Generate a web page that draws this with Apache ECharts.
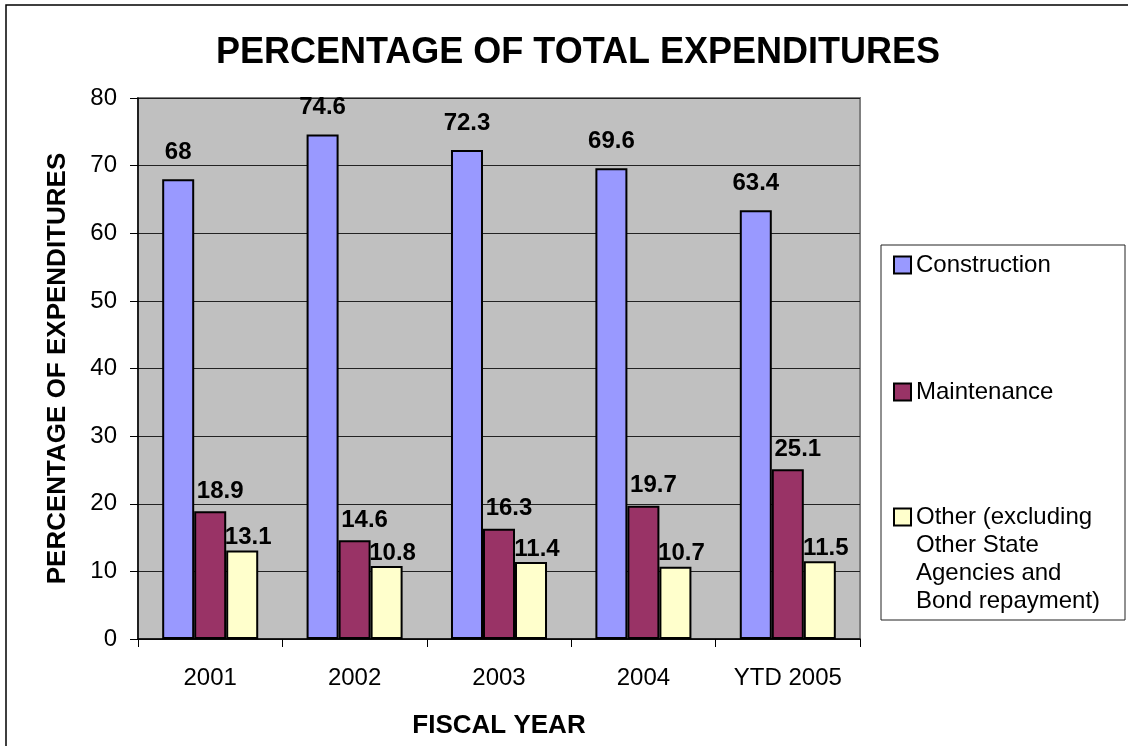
<!DOCTYPE html>
<html>
<head>
<meta charset="utf-8">
<script src="https://cdn.jsdelivr.net/npm/echarts@6/dist/echarts.min.js"></script>
<style>
  html, body { margin: 0; padding: 0; background: #fff; }
  #main { width: 1128px; height: 746px; }
</style>
</head>
<body>
<div id="main"></div>
<script>
// data
var categories = ['2001', '2002', '2003', '2004', 'YTD 2005'];
var construction = [68, 74.6, 72.3, 69.6, 63.4];
var maintenance = [18.9, 14.6, 16.3, 19.7, 25.1];
var other = [13.1, 10.8, 11.4, 10.7, 11.5];
var seriesNames = ['Construction', 'Maintenance', 'Other (excluding\nOther State\nAgencies and\nBond repayment)'];

var FONT = 'Liberation Sans, Arial, sans-serif';

var chart = echarts.init(document.getElementById('main'));

function barSeries(name, data, color, labelDist, labelOffset) {
  return {
    name: name,
    type: 'bar',
    data: data,
    barGap: '0%',
    barCategoryGap: '33.5%',
    itemStyle: { color: color, borderColor: '#000', borderWidth: 2 },
    label: {
      show: true,
      position: 'top',
      distance: labelDist,
      offset: labelOffset,
      color: '#000',
      fontFamily: FONT,
      fontWeight: 'bold',
      fontSize: 24
    }
  };
}

// one legend per entry so each can sit where excel put it
function legendAt(name, top, blankLines) {
  return {
    data: [name],
    left: 893,
    top: top,
    padding: 0,
    orient: 'vertical',
    icon: 'rect',
    itemWidth: 17,
    itemHeight: 17,
    selectedMode: false,
    z: 5,
    // blank lines above keep the icon level with the first text line
    formatter: function (n) { return blankLines ? '\n'.repeat(blankLines) + n : n; },
    textStyle: { color: '#000', fontFamily: FONT, fontSize: 24, lineHeight: 28 }
  };
}

var options = {
  animation: false,
  backgroundColor: '#fff',
  title: {
    text: 'PERCENTAGE OF TOTAL EXPENDITURES',
    left: 573,
    top: 30,
    textAlign: 'center',
    textStyle: { color: '#000', fontFamily: FONT, fontWeight: 'bold', fontSize: 36 }
  },
  graphic: [
    { type: 'rect', z: 0, shape: { x: 6, y: 5, width: 1140, height: 760 },
      style: { fill: 'none', stroke: '#000', lineWidth: 1.5 } },
    { type: 'rect', z: 1, shape: { x: 881, y: 245, width: 244, height: 375 },
      style: { fill: '#fff', stroke: '#222', lineWidth: 1 } }
  ],
  legend: [
    legendAt(seriesNames[0], 251, 0),
    legendAt(seriesNames[1], 378, 0),
    legendAt(seriesNames[2], 419, 3)
  ],
  grid: {
    left: 138,
    right: 268,
    top: 98,
    bottom: 107,
    show: true,
    backgroundColor: '#C0C0C0',
    borderColor: '#808080',
    borderWidth: 2
  },
  xAxis: {
    type: 'category',
    data: categories,
    name: 'FISCAL YEAR',
    nameLocation: 'middle',
    nameGap: 74,
    nameTextStyle: { color: '#000', fontFamily: FONT, fontWeight: 'bold', fontSize: 26 },
    axisLine: { lineStyle: { color: '#000', width: 1.5 } },
    axisTick: { show: true, length: 8, lineStyle: { color: '#000' } },
    axisLabel: { color: '#000', fontFamily: FONT, fontSize: 24, margin: 27 }
  },
  yAxis: {
    type: 'value',
    min: 0,
    max: 80,
    interval: 10,
    name: 'PERCENTAGE OF EXPENDITURES',
    nameLocation: 'middle',
    nameGap: 67,
    nameTextStyle: { color: '#000', fontFamily: FONT, fontWeight: 'bold', fontSize: 26 },
    axisLine: { show: true, lineStyle: { color: '#000', width: 1.5 } },
    axisTick: { show: true, length: 8, lineStyle: { color: '#000' } },
    axisLabel: { color: '#000', fontFamily: FONT, fontSize: 24, margin: 21 },
    splitLine: { lineStyle: { color: '#222', width: 1 } }
  },
  series: [
    barSeries(seriesNames[0], construction, '#9999FF', 15, [0, 0]),
    barSeries(seriesNames[1], maintenance, '#993366', 8, [10, 0]),
    barSeries(seriesNames[2], other, '#FFFFCC', 1, [6, 0])
  ]
};

chart.setOption(options, true);
</script>
</body>
</html>
